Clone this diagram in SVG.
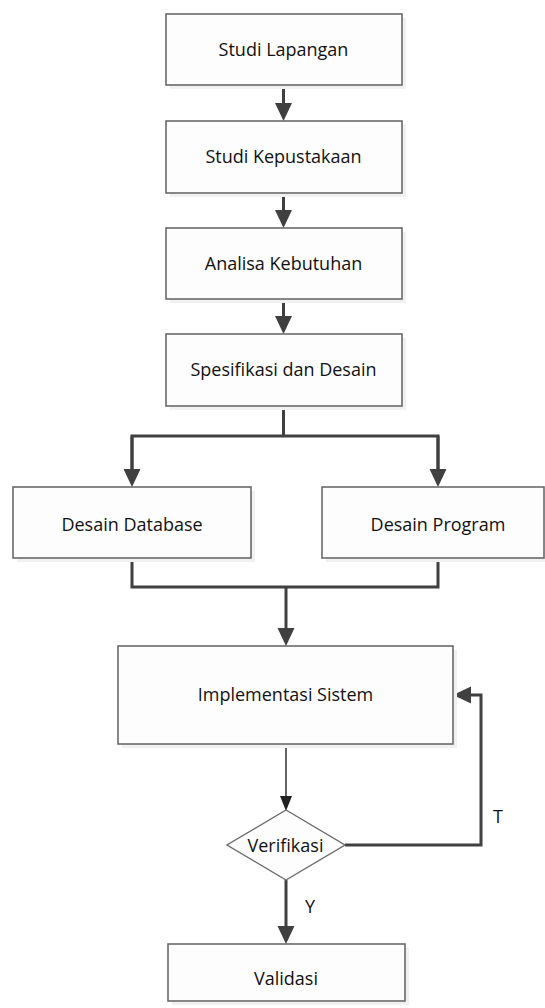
<svg xmlns="http://www.w3.org/2000/svg" width="545" height="1008" viewBox="0 0 545 1008">
<style>
.box{fill:#fdfdfd;stroke:#6a6a6a;stroke-width:1.6}
.sh{fill:#f1f1f1}
.lbl{font-family:"Open Sans","Liberation Sans",sans-serif;font-size:18px;fill:#111;text-anchor:middle}
.tag{font-family:"Open Sans","Liberation Sans",sans-serif;font-size:18px;fill:#111}
.c{fill:none;stroke:#404040;stroke-width:3}
.thin{fill:none;stroke:#222;stroke-width:1.4}
</style>
<defs>
<marker id="ah" markerUnits="userSpaceOnUse" markerWidth="18" markerHeight="18" refX="8" refY="8.5" orient="auto" viewBox="0 0 18 17">
<path d="M0,0 L18,8.5 L0,17 Z" fill="#404040"/>
</marker>
<marker id="ahs" markerUnits="userSpaceOnUse" markerWidth="15" markerHeight="13" refX="6" refY="6" orient="auto" viewBox="0 0 15 12">
<path d="M0,0 L15,6 L0,12 Z" fill="#222"/>
</marker>
</defs>
<rect width="545" height="1008" fill="#ffffff"/>
<g id="connectors">
<line class="c" x1="283.5" y1="85" x2="283.5" y2="111" marker-end="url(#ah)"/>
<line class="c" x1="283.5" y1="193" x2="283.5" y2="218" marker-end="url(#ah)"/>
<line class="c" x1="283.5" y1="299" x2="283.5" y2="324" marker-end="url(#ah)"/>
<polyline class="c" points="283.5,406 283.5,436"/>
<polyline class="c" points="132,477 132,436 438,436 438,477"/>
<line class="c" x1="132" y1="436" x2="132" y2="477" marker-end="url(#ah)"/>
<line class="c" x1="438" y1="436" x2="438" y2="477" marker-end="url(#ah)"/>
<polyline class="c" points="132,558 132,587 438,587 438,558"/>
<line class="c" x1="286" y1="587" x2="286" y2="636" marker-end="url(#ah)"/>
<line class="thin" x1="286" y1="744" x2="286" y2="802" marker-end="url(#ahs)"/>
<polyline class="c" points="345,845 481,845 481,695 463,695" marker-end="url(#ah)"/>
<line class="c" x1="286" y1="880" x2="286" y2="934" marker-end="url(#ah)"/>
<text class="tag" x="493" y="823">T</text>
<text class="tag" x="305" y="913">Y</text>
</g>
<g id="studi-lapangan">
<rect class="sh" x="170" y="18" width="236" height="71"/>
<rect class="box" x="166" y="14" width="236" height="71"/>
<text class="lbl" x="283.5" y="55.5">Studi Lapangan</text>
</g>
<g id="studi-kepustakaan">
<rect class="sh" x="170" y="125" width="236" height="72"/>
<rect class="box" x="166" y="121" width="236" height="72"/>
<text class="lbl" x="283.5" y="162.5">Studi Kepustakaan</text>
</g>
<g id="analisa-kebutuhan">
<rect class="sh" x="170" y="232" width="236" height="71"/>
<rect class="box" x="166" y="228" width="236" height="71"/>
<text class="lbl" x="283.5" y="269.5">Analisa Kebutuhan</text>
</g>
<g id="spesifikasi-desain">
<rect class="sh" x="170" y="338" width="236" height="72"/>
<rect class="box" x="166" y="334" width="236" height="72"/>
<text class="lbl" x="283.5" y="376">Spesifikasi dan Desain</text>
</g>
<g id="desain-database">
<rect class="sh" x="17" y="491" width="238" height="71"/>
<rect class="box" x="13" y="487" width="238" height="71"/>
<text class="lbl" x="132" y="530.5">Desain Database</text>
</g>
<g id="desain-program">
<rect class="sh" x="326" y="491" width="222" height="71"/>
<rect class="box" x="322" y="487" width="222" height="71"/>
<text class="lbl" x="438" y="530.5">Desain Program</text>
</g>
<g id="implementasi-sistem">
<rect class="sh" x="122" y="650" width="335" height="98"/>
<rect class="box" x="118" y="646" width="335" height="98"/>
<text class="lbl" x="285.5" y="701">Implementasi Sistem</text>
</g>
<g id="verifikasi">
<polygon points="286,810 345,845 286,880 227,845" fill="#fdfdfd" stroke="#6a6a6a" stroke-width="1.4"/>
<text class="lbl" x="285.5" y="852">Verifikasi</text>
</g>
<g id="validasi">
<rect class="sh" x="172" y="948" width="237" height="57"/>
<rect class="box" x="168" y="944" width="237" height="57"/>
<text class="lbl" x="286" y="985">Validasi</text>
</g>
</svg>
